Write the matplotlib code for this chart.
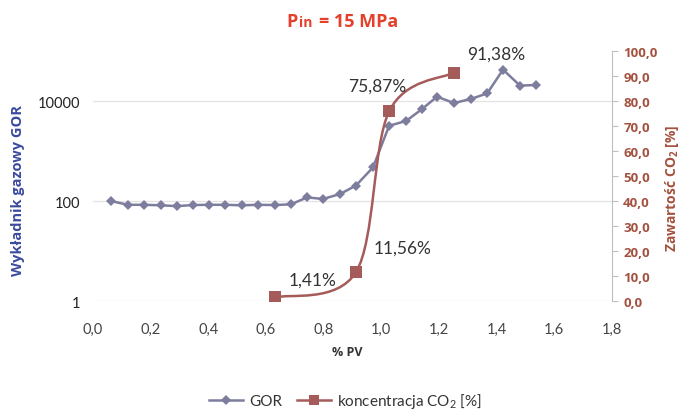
import numpy as np
import matplotlib
matplotlib.use("Agg")
import matplotlib.pyplot as plt
from matplotlib.path import Path
from matplotlib.patches import PathPatch
from matplotlib.lines import Line2D
from matplotlib.ticker import FixedLocator, FuncFormatter

plt.rcParams['font.family'] = ['Lato', 'DejaVu Sans']
plt.rcParams['mathtext.fontset'] = 'custom'
BOLDF = ['Open Sans', 'DejaVu Sans']

# ---- data ----
pv_gor = [0.062, 0.121, 0.177, 0.236, 0.291, 0.347, 0.402, 0.458, 0.517, 0.572,
          0.631, 0.687, 0.742, 0.798, 0.857, 0.912, 0.971, 1.027, 1.086, 1.141,
          1.193, 1.252, 1.311, 1.367, 1.422, 1.481, 1.537]
gor = [100, 84, 84, 82, 79, 83, 84, 84, 82, 84,
       83, 86, 118, 110, 138, 204, 470, 3200, 3990, 6900,
       12200, 9100, 11000, 14200, 42300, 20300, 20900]

pv_co2 = [0.631, 0.912, 1.027, 1.252]
co2 = [1.41, 11.56, 75.87, 91.38]

x_ticks = [0.0, 0.2, 0.4, 0.6, 0.8, 1.0, 1.2, 1.4, 1.6, 1.8]
left_ticks = [1, 100, 10000]
right_ticks = [0, 10, 20, 30, 40, 50, 60, 70, 80, 90, 100]

# ---- style ----
c_gor = '#7d7d9e'
c_co2 = '#a65b5b'
c_title = '#e5402b'
c_left = '#3a4a9e'
c_right = '#a4523f'
c_tick = '#444444'

fig = plt.figure(figsize=(6.91, 4.14), dpi=100)
ax = fig.add_axes([0.1346, 0.2705, 0.7511, 0.6039])
ax2 = ax.twinx()

ax.set_yscale('log')
ax.set_ylim(1, 1e5)
ax.set_xlim(0, 1.8)
ax2.set_ylim(0, 100)

comma = lambda v, fmt: (fmt % v).replace('.', ',')

ax.xaxis.set_major_locator(FixedLocator(x_ticks))
ax.xaxis.set_major_formatter(FuncFormatter(lambda v, p: comma(v, '%.1f')))
ax.yaxis.set_major_locator(FixedLocator(left_ticks))
ax.yaxis.set_minor_locator(FixedLocator([]))
ax.yaxis.set_major_formatter(FuncFormatter(lambda v, p: '%d' % v))
ax2.yaxis.set_major_locator(FixedLocator(right_ticks))
ax2.yaxis.set_major_formatter(FuncFormatter(lambda v, p: comma(v, '%.1f')))

for a in (ax, ax2):
    for s in a.spines.values():
        s.set_visible(False)
ax2.spines['right'].set_visible(True)
ax2.spines['right'].set_color('#bfbfbf')
ax2.spines['right'].set_linewidth(0.8)

ax.tick_params(axis='x', length=0, pad=15, labelsize=10.5, labelcolor=c_tick)
ax.tick_params(axis='y', which='both', length=0, pad=9, labelsize=10.5, labelcolor='#222222')
ax2.tick_params(axis='y', length=4, width=0.8, color='#bfbfbf', pad=4,
                labelsize=9.5, labelcolor=c_right)
for lab in ax2.get_yticklabels():
    lab.set_fontweight('bold')
    lab.set_family(BOLDF)

ax.grid(axis='y', which='major', color='#e3e3e3', linewidth=0.9)
ax.set_axisbelow(True)

# GOR line
ax.plot(pv_gor, gor, color=c_gor, marker='D', markersize=5.5, linewidth=1.8,
        markeredgewidth=0, zorder=3)

# CO2 smooth line (Catmull-Rom -> cubic Bezier)
px = np.array(pv_co2)
py = np.array(co2)
verts = [(px[0], py[0])]
codes = [Path.MOVETO]
n = len(px)
for i in range(n - 1):
    p0 = np.array([px[max(i - 1, 0)], py[max(i - 1, 0)]])
    p1 = np.array([px[i], py[i]])
    p2 = np.array([px[i + 1], py[i + 1]])
    p3 = np.array([px[min(i + 2, n - 1)], py[min(i + 2, n - 1)]])
    c1 = p1 + (p2 - p0) / 6.0
    c2 = p2 - (p3 - p1) / 6.0
    verts += [tuple(c1), tuple(c2), tuple(p2)]
    codes += [Path.CURVE4, Path.CURVE4, Path.CURVE4]
ax2.add_patch(PathPatch(Path(verts, codes), facecolor='none', edgecolor=c_co2,
                        linewidth=1.8, zorder=4))
ax2.plot(pv_co2, co2, linestyle='none', marker='s', markersize=8,
         color=c_co2, markeredgewidth=0, zorder=5)

# data labels
label_offsets = [(0.13, 7.0), (0.162, 9.7), (-0.04, 10.4), (0.148, 7.4)]
for xv, yv, (dx, dy) in zip(pv_co2, co2, label_offsets):
    ax2.text(xv + dx, yv + dy, comma(yv, '%.2f') + '%', ha='center', va='center',
             fontsize=12.5, color='#333333', zorder=6)

# titles / labels
fig.text(0.431, 0.935, 'P', ha='right', va='baseline', fontsize=13,
         fontweight='bold', color=c_title, family=BOLDF)
fig.text(0.432, 0.935, 'in', ha='left', va='baseline', fontsize=10,
         fontweight='bold', color=c_title, family=BOLDF)
fig.text(0.462, 0.935, '= 15 MPa', ha='left', va='baseline', fontsize=13,
         fontweight='bold', color=c_title, family=BOLDF)
fig.text(0.026, 0.54, 'Wykładnik gazowy GOR', rotation=90, ha='center', va='center',
         fontsize=10.5, fontweight='bold', color=c_left, family=BOLDF)
fig.text(0.972, 0.545, 'Zawartość CO$_{\\mathregular{2}}$ [%]', rotation=90,
         ha='center', va='center', fontsize=10, fontweight='bold', color=c_right,
         family=BOLDF)
fig.text(0.502, 0.148, '% PV', ha='center', va='center', fontsize=9,
         fontweight='bold', color='#333333', family=BOLDF)

handles = [Line2D([], [], color=c_gor, marker='D', markersize=5, linewidth=1.8,
                  markeredgewidth=0),
           Line2D([], [], color=c_co2, marker='s', markersize=7, linewidth=1.8,
                  markeredgewidth=0)]
fig.legend(handles, ['GOR', 'koncentracja CO$_{\\mathregular{2}}$ [%]'],
           loc='center', bbox_to_anchor=(0.5, 0.03), ncol=2, frameon=False,
           fontsize=11, handlelength=2.2, columnspacing=1.0, handletextpad=0.4,
           labelcolor='#333333')

fig.savefig('out.png', dpi=100)
